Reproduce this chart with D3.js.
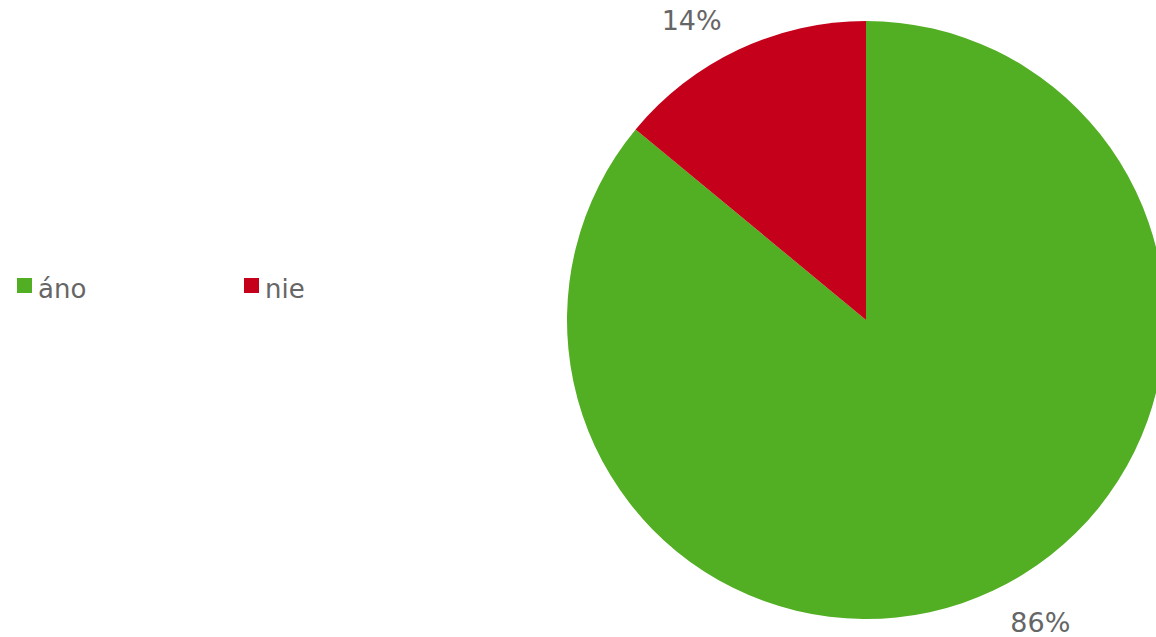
<!DOCTYPE html>
<html>
<head>
<meta charset="utf-8">
<script src="https://cdn.jsdelivr.net/npm/d3@7"></script>
<style>
  html, body { margin: 0; padding: 0; background: #fff; }
  svg { display: block; }
  text { font-family: "DejaVu Sans", Verdana, sans-serif; fill: #666666; }
</style>
</head>
<body>
<svg id="chart" width="1156" height="637"></svg>
<script>
const categories = ["áno", "nie"];
const values = [86, 14];
const labels = ["86%", "14%"];
const colors = ["#52ae23", "#c4001a"];

const svg = d3.select("#chart");
const W = 1156, H = 637;
const cx = 866, cy = 320, radius = 299;

const pie = d3.pie().sort(null).value(d => d.v);
const arcs = pie(categories.map((c, i) => ({ c, v: values[i], i })));
const arc = d3.arc().innerRadius(0).outerRadius(radius);

const g = svg.append("g").attr("transform", `translate(${cx},${cy})`);
g.selectAll("path").data(arcs).enter().append("path")
  .attr("d", arc)
  .attr("fill", d => colors[d.data.i]);

// data labels outside the pie
g.selectAll("text.lbl").data(arcs).enter().append("text")
  .attr("class", "lbl")
  .attr("text-anchor", "middle")
  .attr("font-size", 27)
  .attr("x", d => {
    const a = (d.startAngle + d.endAngle) / 2;
    const x = Math.sin(a) * radius;
    return x + Math.sign(x) * 47;
  })
  .attr("y", d => {
    const a = (d.startAngle + d.endAngle) / 2;
    const y = -Math.cos(a) * radius;
    return y + Math.sign(y) * 30 + 11;
  })
  .text(d => labels[d.data.i]);

// legend
const legendX = d3.scalePoint().domain(categories).range([17, 244]);
const lg = svg.append("g").attr("transform", "translate(0,278)");
const items = lg.selectAll("g").data(categories).enter().append("g")
  .attr("transform", d => `translate(${legendX(d)},0)`);
items.append("rect").attr("width", 15).attr("height", 15)
  .attr("fill", (d, i) => colors[i]);
items.append("text").attr("x", 21).attr("y", 20)
  .attr("font-size", 26).text(d => d);
</script>
</body>
</html>
